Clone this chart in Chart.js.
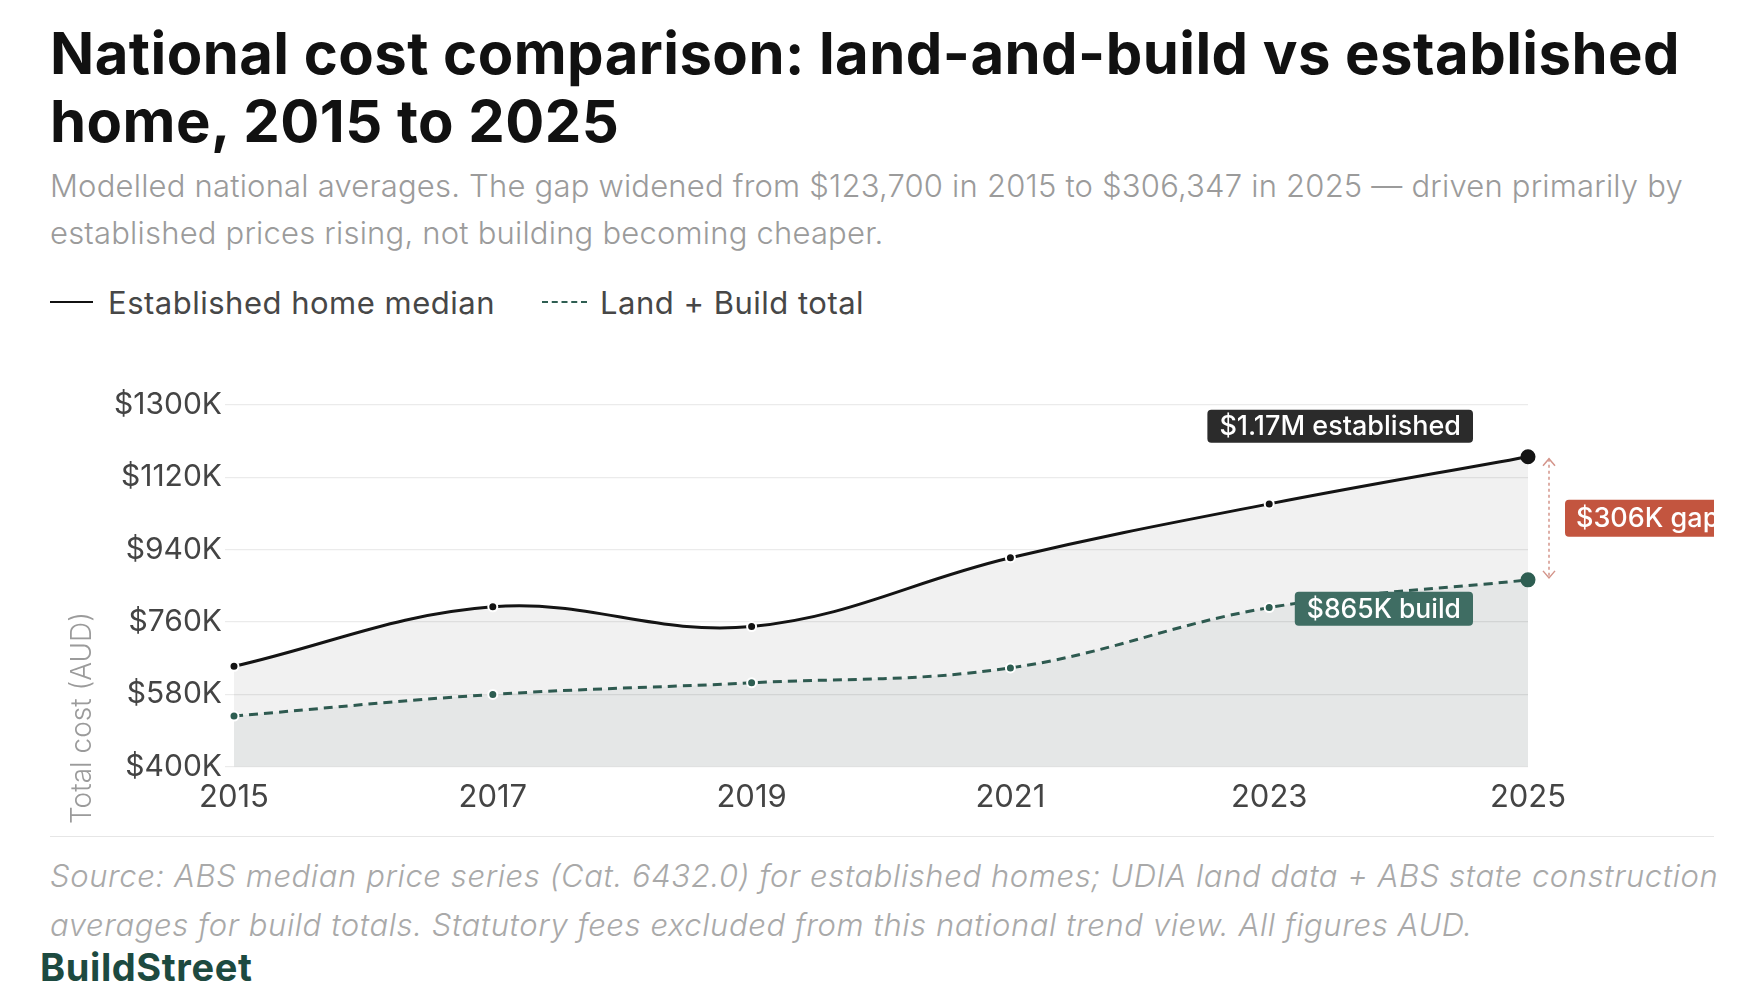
<!DOCTYPE html>
<html>
<head>
<meta charset="utf-8">
<script src="https://cdn.jsdelivr.net/npm/chart.js@4.4.1/dist/chart.umd.min.js"></script>
<style>
  html, body { margin: 0; padding: 0; background: #fff; }
  body { width: 1760px; height: 1000px; position: relative; overflow: hidden; font-family: Inter, "Noto Sans", sans-serif; }
  .title { position: absolute; left: 50px; top: 19px; font-size: 58px; line-height: 68px; font-weight: 700; color: #111; letter-spacing: 0.45px; white-space: nowrap; }
  .sub { position: absolute; left: 50px; top: 162px; font-size: 31px; line-height: 47px; font-weight: 300; color: #9b9b9b; letter-spacing: 0.2px; white-space: nowrap; }
  .legend { position: absolute; left: 50px; top: 284px; height: 36px; display: flex; align-items: center; font-size: 31px; font-weight: 400; color: #474747; letter-spacing: 0.5px; white-space: nowrap; }
  .legend .sw { width: 43px; height: 0; margin-right: 15px; }
  .legend .solid { border-top: 2.5px solid #111; }
  .legend .dash { border-top: 2.5px dashed #2e5e52; width: 45px; margin-right: 13px; }
  .legend .item2 { margin-left: 47px; display: flex; align-items: center; }
  #wrap { position: absolute; left: 50px; top: 330px; width: 1664px; height: 500px; overflow: hidden; }
  .rule { position: absolute; left: 50px; top: 836px; width: 1664px; border-top: 1.5px solid #e6e6e6; }
  .source { position: absolute; left: 50px; top: 851px; font-size: 31px; line-height: 49px; font-style: italic; font-weight: 300; color: #a9a9a9; letter-spacing: 0.6px; white-space: nowrap; }
  .brand { position: absolute; left: 40px; top: 946px; font-size: 38px; line-height: 42px; font-weight: 700; color: #1d4a40; letter-spacing: 0.6px; }
</style>
</head>
<body>
<div class="title">National cost comparison: land-and-build vs established<br>home, 2015 to 2025</div>
<div class="sub">Modelled national averages. The gap widened from $123,700 in 2015 to $306,347 in 2025 — driven primarily by<br>established prices rising, not building becoming cheaper.</div>
<div class="legend">
  <span class="sw solid"></span><span>Established home median</span>
  <span class="item2"><span class="sw dash"></span><span>Land + Build total</span></span>
</div>
<div id="wrap"><canvas id="c" width="1664" height="500"></canvas></div>
<div class="rule"></div>
<div class="source">Source: ABS median price series (Cat. 6432.0) for established homes; UDIA land data + ABS state construction<br>averages for build totals. Statutory fees excluded from this national trend view. All figures AUD.</div>
<div class="brand">BuildStreet</div>

<script>
const years = ['2015', '2017', '2019', '2021', '2023', '2025'];
const establishedMedian = [650000, 798000, 749000, 920000, 1054000, 1171347];
const landBuildTotal = [526300, 580000, 609000, 646000, 796000, 865000];
const yTicks = [400000, 580000, 760000, 940000, 1120000, 1300000];

const FONT = 'Inter, "Noto Sans", sans-serif';
const last = years.length - 1;

function roundRect(ctx, x, y, w, h, r) {
  ctx.beginPath();
  ctx.moveTo(x + r, y);
  ctx.arcTo(x + w, y, x + w, y + h, r);
  ctx.arcTo(x + w, y + h, x, y + h, r);
  ctx.arcTo(x, y + h, x, y, r);
  ctx.arcTo(x, y, x + w, y, r);
  ctx.closePath();
}

function label(ctx, text, opts) {
  ctx.font = opts.font;
  const w = ctx.measureText(text).width + opts.padX * 2;
  const x = opts.align === 'right' ? opts.x - w : opts.x;
  const y = opts.y;
  ctx.fillStyle = opts.bg;
  roundRect(ctx, x, y, w, opts.h, 4);
  ctx.fill();
  ctx.fillStyle = '#fff';
  ctx.textBaseline = 'middle';
  ctx.textAlign = 'left';
  ctx.fillText(text, x + opts.padX, y + opts.h / 2 + 1);
}

const annotations = {
  id: 'annotations',
  afterDatasetsDraw(chart) {
    const { ctx, scales: { x, y } } = chart;
    const px = x.getPixelForValue(last);
    const yE = y.getPixelForValue(establishedMedian[last]);
    const yB = y.getPixelForValue(landBuildTotal[last]);
    const gap = establishedMedian[last] - landBuildTotal[last];
    ctx.save();

    label(ctx, '$' + (establishedMedian[last] / 1e6).toFixed(2) + 'M established', {
      font: '500 27px ' + FONT, padX: 12, h: 33, align: 'right',
      x: px - 55, y: yE - 47, bg: '#2b2b2b'
    });
    label(ctx, '$' + Math.round(landBuildTotal[last] / 1000) + 'K build', {
      font: '500 26.5px ' + FONT, padX: 12, h: 34, align: 'right',
      x: px - 55, y: yB + 12, bg: '#3f6d63'
    });

    // gap arrow
    const ax = px + 21;
    ctx.strokeStyle = '#d4958b';
    ctx.lineWidth = 1.5;
    ctx.setLineDash([3, 3]);
    ctx.beginPath();
    ctx.moveTo(ax, yE + 2);
    ctx.lineTo(ax, yB - 2);
    ctx.stroke();
    ctx.setLineDash([]);
    ctx.beginPath();
    ctx.moveTo(ax - 6, yE + 9); ctx.lineTo(ax, yE + 2); ctx.lineTo(ax + 6, yE + 9);
    ctx.moveTo(ax - 6, yB - 9); ctx.lineTo(ax, yB - 2); ctx.lineTo(ax + 6, yB - 9);
    ctx.stroke();

    label(ctx, '$' + Math.round(gap / 1000) + 'K gap', {
      font: '500 27px ' + FONT, padX: 11, h: 37, align: 'left',
      x: px + 37, y: (yE + yB) / 2 - 18.5, bg: '#c3553f'
    });

    // y axis title
    ctx.save();
    ctx.translate(33, 388);
    ctx.rotate(-Math.PI / 2);
    ctx.font = '300 28px ' + FONT;
    ctx.fillStyle = '#9b9b9b';
    ctx.textAlign = 'center';
    ctx.textBaseline = 'middle';
    ctx.fillText('Total cost (AUD)', 0, 0);
    ctx.restore();

    ctx.restore();
  }
};

new Chart(document.getElementById('c'), {
  type: 'line',
  data: {
    labels: years,
    datasets: [
      {
        label: 'Established home median',
        data: establishedMedian,
        borderColor: '#141414',
        borderWidth: 3,
        tension: 0.38,
        fill: 'origin',
        backgroundColor: 'rgba(0,0,0,0.055)',
        pointRadius: [4.5, 4.5, 4.5, 4.5, 4.5, 6.5],
        pointBackgroundColor: '#141414',
        pointBorderColor: ['#fff', '#fff', '#fff', '#fff', '#fff', '#141414'],
        pointBorderWidth: 2,
        order: 1
      },
      {
        label: 'Land + Build total',
        data: landBuildTotal,
        borderColor: '#2e5a50',
        borderWidth: 3,
        borderDash: [9, 6],
        tension: 0.38,
        fill: 'origin',
        backgroundColor: 'rgba(30,62,62,0.058)',
        pointRadius: [4.5, 4.5, 4.5, 4.5, 4.5, 6.5],
        pointBackgroundColor: '#2e5e52',
        pointBorderColor: ['#fff', '#fff', '#fff', '#fff', '#fff', '#2e5e52'],
        pointBorderWidth: 2,
        order: 0
      }
    ]
  },
  options: {
    responsive: false,
    animation: false,
    devicePixelRatio: 1,
    layout: { padding: { top: 75, right: 186, bottom: 2, left: 0 } },
    plugins: { legend: { display: false }, tooltip: { enabled: false } },
    scales: {
      x: {
        offset: false,
        grid: { display: false, drawTicks: false },
        border: { display: false },
        ticks: { color: '#444', font: { family: FONT, size: 31 }, padding: 12, maxRotation: 0 }
      },
      y: {
        min: 400000,
        max: 1300000,
        afterBuildTicks(scale) { scale.ticks = yTicks.map(v => ({ value: v })); },
        afterFit(scale) { scale.width = 184; },
        grid: { color: '#ebebeb', lineWidth: 1.2, tickLength: 9, drawTicks: true },
        border: { display: false },
        ticks: {
          color: '#444',
          font: { family: FONT, size: 30 },
          padding: 3,
          callback: v => '$' + (v / 1000) + 'K'
        }
      }
    }
  },
  plugins: [annotations]
});
</script>
</body>
</html>
